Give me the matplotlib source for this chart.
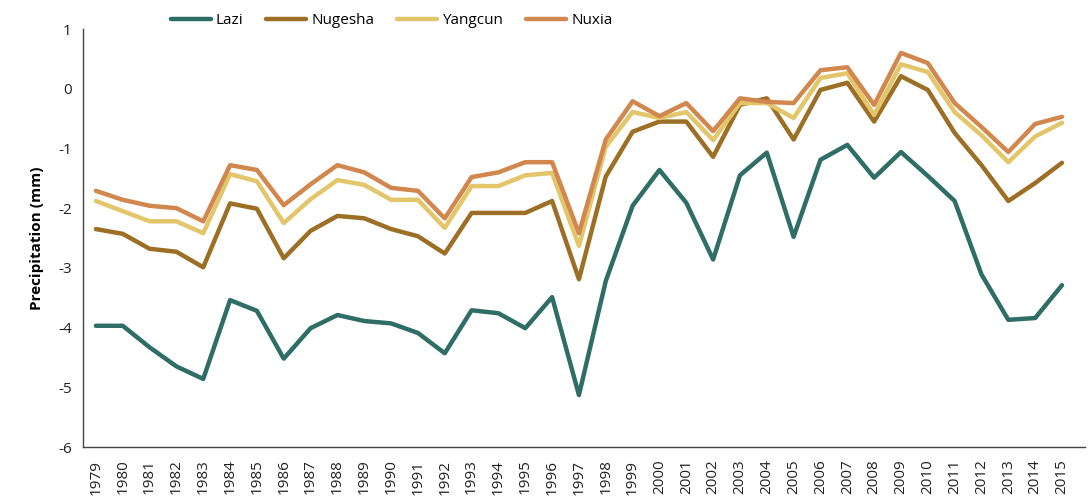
import matplotlib.pyplot as plt

plt.rcParams['font.family'] = ['Open Sans', 'DejaVu Sans']
plt.rcParams['axes.unicode_minus'] = False

years = list(range(1979, 2016))

lazi = [-3.97, -3.97, -4.33, -4.65, -4.86, -3.54, -3.72, -4.52, -4.01, -3.79,
        -3.89, -3.93, -4.09, -4.43, -3.71, -3.76, -4.01, -3.49, -5.13, -3.22,
        -1.96, -1.36, -1.91, -2.86, -1.45, -1.07, -2.48, -1.19, -0.94, -1.49,
        -1.06, -1.46, -1.88, -3.11, -3.87, -3.84, -3.29]
nugesha = [-2.35, -2.43, -2.68, -2.73, -2.99, -1.92, -2.01, -2.84, -2.38, -2.13,
           -2.17, -2.35, -2.47, -2.76, -2.08, -2.08, -2.08, -1.88, -3.19, -1.47,
           -0.72, -0.55, -0.55, -1.14, -0.27, -0.16, -0.85, -0.02, 0.10, -0.55,
           0.21, -0.02, -0.74, -1.28, -1.88, -1.58, -1.24]
yangcun = [-1.88, -2.05, -2.22, -2.22, -2.42, -1.43, -1.55, -2.25, -1.85, -1.53,
           -1.61, -1.86, -1.86, -2.33, -1.63, -1.63, -1.45, -1.41, -2.63, -0.97,
           -0.39, -0.49, -0.39, -0.86, -0.24, -0.24, -0.49, 0.18, 0.26, -0.44,
           0.41, 0.28, -0.39, -0.78, -1.23, -0.80, -0.57]
nuxia = [-1.71, -1.86, -1.96, -2.00, -2.22, -1.28, -1.36, -1.95, -1.60, -1.28,
         -1.40, -1.66, -1.71, -2.17, -1.48, -1.40, -1.23, -1.23, -2.42, -0.85,
         -0.21, -0.46, -0.24, -0.71, -0.16, -0.22, -0.24, 0.31, 0.36, -0.27,
         0.60, 0.43, -0.24, -0.64, -1.06, -0.59, -0.47]

series = [("Lazi", lazi, "#2e6e66"),
          ("Nugesha", nugesha, "#9c6f25"),
          ("Yangcun", yangcun, "#e3c56a"),
          ("Nuxia", nuxia, "#d1874e")]

fig = plt.figure(figsize=(10.88, 4.97), dpi=100)
ax = fig.add_axes([0.0763, 0.1006, 0.921, 0.841])

for name, vals, col in series:
    ax.plot(years, vals, color=col, lw=3.2, label=name,
            solid_capstyle="round", solid_joinstyle="round")

ax.set_xlim(1978.52, 2015.86)
ax.set_ylim(-6, 1)
ax.set_xticks(years)
ax.set_xticklabels([str(y) for y in years], rotation=90)
ax.set_yticks(range(-6, 2))
ax.tick_params(length=0, labelsize=11, colors="#222222")
ax.tick_params(axis="y", pad=8)
ax.tick_params(axis="x", pad=9)

for s in ["top", "right"]:
    ax.spines[s].set_visible(False)
for s in ["left", "bottom"]:
    ax.spines[s].set_color("#444444")
    ax.spines[s].set_linewidth(1.0)

ax.set_ylabel("Precipitation (mm)", fontsize=11, fontweight="bold", labelpad=10)

ax.legend(loc="center", bbox_to_anchor=(0.36, 0.958), bbox_transform=fig.transFigure,
          ncol=4, frameon=False, fontsize=11, handlelength=2.6, columnspacing=1.5,
          handletextpad=0.35)

fig.savefig("out.png", dpi=100)
